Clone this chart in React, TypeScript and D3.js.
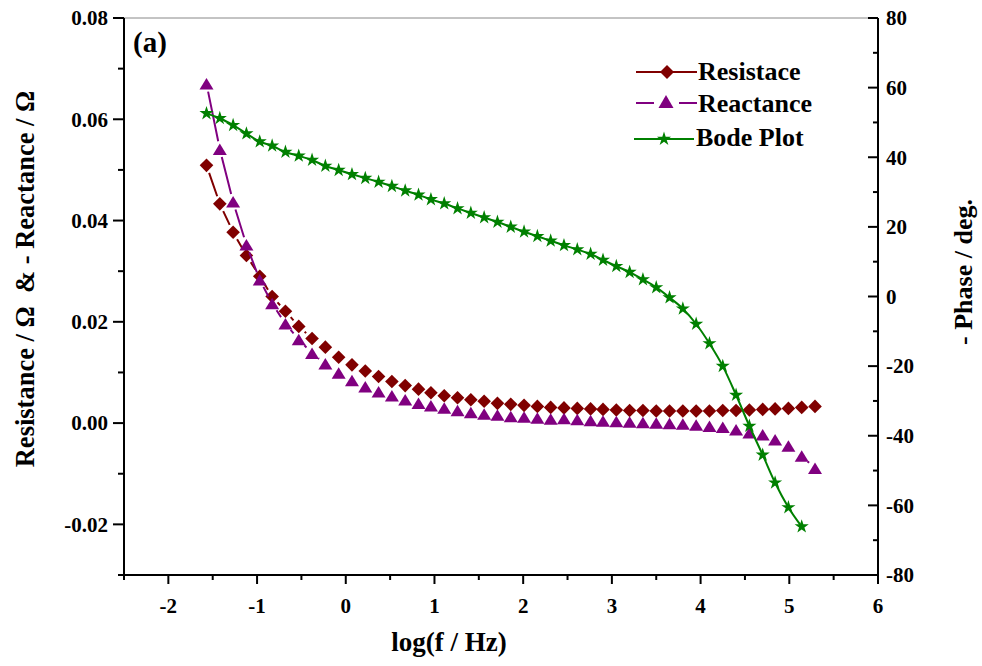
import React from "react";
import * as d3 from "d3";

// log(f / Hz) for each measured point
const logF = [
  -1.57, -1.42, -1.27, -1.12, -0.97, -0.83, -0.68, -0.53, -0.38, -0.23,
  -0.08, 0.07, 0.22, 0.37, 0.52, 0.67, 0.82, 0.96, 1.11, 1.26,
  1.41, 1.56, 1.71, 1.86, 2.01, 2.16, 2.31, 2.46, 2.61, 2.76,
  2.9, 3.05, 3.2, 3.35, 3.5, 3.65, 3.8, 3.95, 4.1, 4.25,
  4.4, 4.55, 4.7, 4.84, 4.99, 5.14, 5.29,
];

// Resistance / Ohm
const resistance = [
  0.0509, 0.0433, 0.0377, 0.0331, 0.029, 0.025, 0.0221, 0.0191, 0.0167, 0.015,
  0.013, 0.0115, 0.0103, 0.0092, 0.0082, 0.0074, 0.0067, 0.006, 0.0054, 0.005,
  0.0046, 0.0043, 0.0039, 0.0037, 0.0035, 0.0033, 0.0031, 0.003, 0.0029, 0.0028,
  0.0027, 0.0026, 0.0025, 0.0025, 0.0024, 0.0024, 0.0024, 0.0024, 0.0024, 0.0025,
  0.0025, 0.0026, 0.0027, 0.0028, 0.0029, 0.0031, 0.0033,
];

// - Reactance / Ohm
const reactance = [
  0.067, 0.0541, 0.0437, 0.0352, 0.0283, 0.0236, 0.0196, 0.0165, 0.0138, 0.0117,
  0.0099, 0.0084, 0.0072, 0.0062, 0.0054, 0.0046, 0.0039, 0.0034, 0.003, 0.0025,
  0.0021, 0.0018, 0.0016, 0.0013, 0.0012, 0.001, 0.0008, 0.0009, 0.0007, 0.0005,
  0.0004, 0.0003, 0.0002, 0.0001, 0.0, -0.0001, -0.0002, -0.0004, -0.0006, -0.0008,
  -0.0013, -0.0019, -0.0023, -0.0033, -0.0045, -0.0065, -0.0089,
];

// - Phase / deg (Bode plot), one point fewer than the impedance series
const phase = [
  52.6, 51.2, 49.2, 46.8, 44.5, 43.3, 41.5, 40.4, 39.2, 37.5,
  36.3, 35.1, 34.0, 32.9, 31.7, 30.4, 29.2, 27.9, 26.7, 25.3,
  24.0, 22.7, 21.4, 20.0, 18.6, 17.3, 16.0, 14.7, 13.5, 12.2,
  10.5, 8.7, 7.0, 4.9, 2.6, -0.3, -3.5, -7.9, -13.5, -20.0,
  -28.3, -37.2, -45.5, -53.5, -60.6, -66.1,
];

const seriesNames = ["Resistace", "Reactance", "Bode Plot"];
const leftTickValues = [-0.02, 0.0, 0.02, 0.04, 0.06, 0.08];
const leftMinorValues = [-0.03, -0.01, 0.01, 0.03, 0.05, 0.07];
const rightTickValues = [-80, -60, -40, -20, 0, 20, 40, 60, 80];
const rightMinorValues = [-70, -50, -30, -10, 10, 30, 50, 70];
const xTickValues = [-2, -1, 0, 1, 2, 3, 4, 5, 6];
const xMinorValues = [-2.5, -1.5, -0.5, 0.5, 1.5, 2.5, 3.5, 4.5, 5.5];

const W = 982;
const H = 666;
const PL = 124;
const PR = 878;
const PT = 18;
const PB = 575;

const C_RES = "#800000";
const C_REA = "#800080";
const C_BODE = "#008000";
const FONT = "'Liberation Serif', 'Times New Roman', serif";

const diamondPath = (s: number) => `M0,${-s}L${s},0L0,${s}L${-s},0Z`;
const trianglePath = (w: number, h: number) =>
  `M0,${-h / 2}L${w / 2},${h / 2}L${-w / 2},${h / 2}Z`;
const starPath = d3.symbol(d3.symbolStar, 62)() as string;

type P = { x: number; y: number };
function gapped(pts: P[], gap: number): string {
  let d = "";
  for (let i = 0; i < pts.length - 1; i++) {
    const p = pts[i];
    const q = pts[i + 1];
    const dx = q.x - p.x;
    const dy = q.y - p.y;
    const L = Math.hypot(dx, dy);
    if (L <= 2 * gap + 1) continue;
    const ux = dx / L;
    const uy = dy / L;
    d += `M${p.x + ux * gap},${p.y + uy * gap}L${q.x - ux * gap},${q.y - uy * gap}`;
  }
  return d;
}

export default function App() {
  const x = d3.scaleLinear().domain([-2.5, 6]).range([PL, PR]);
  const yL = d3.scaleLinear().domain([-0.03, 0.08]).range([PB, PT]);
  const yR = d3.scaleLinear().domain([-80, 80]).range([PB, PT]);

  const resPts = logF.map((f, i) => ({ x: x(f), y: yL(resistance[i]) }));
  const reaPts = logF.map((f, i) => ({ x: x(f), y: yL(reactance[i]) }));
  const bodePts = phase.map((v, i) => ({ x: x(logF[i]), y: yR(v) }));

  const bodeLine = d3
    .line<P>()
    .x((d) => d.x)
    .y((d) => d.y)
    .curve(d3.curveMonotoneX)(bodePts) as string;

  const tickFont = { fontFamily: FONT, fontWeight: 700, fontSize: 21 } as const;

  return (
    <svg
      width={W}
      height={H}
      viewBox={`0 0 ${W} ${H}`}
      style={{ position: "absolute", left: 0, top: 0, background: "#fff" }}
    >
      <rect x={0} y={0} width={W} height={H} fill="#fff" />

      {/* top frame line */}
      <line x1={PL} x2={PR} y1={PT} y2={PT} stroke="#888" strokeWidth={1} />

      {/* series: resistance */}
      <path d={gapped(resPts, 8)} fill="none" stroke={C_RES} strokeWidth={2} />
      {resPts.map((p, i) => (
        <path key={"r" + i} d={diamondPath(6.8)} transform={`translate(${p.x},${p.y})`} fill={C_RES} />
      ))}

      {/* series: reactance */}
      <path d={gapped(reaPts, 8)} fill="none" stroke={C_REA} strokeWidth={2} />
      {reaPts.map((p, i) => (
        <path key={"x" + i} d={trianglePath(14, 11.5)} transform={`translate(${p.x},${p.y})`} fill={C_REA} />
      ))}

      {/* series: bode */}
      <path d={bodeLine} fill="none" stroke={C_BODE} strokeWidth={2} />
      {bodePts.map((p, i) => (
        <path key={"b" + i} d={starPath} transform={`translate(${p.x},${p.y})`} fill={C_BODE} />
      ))}

      {/* left axis */}
      <line x1={PL} x2={PL} y1={PT} y2={PB + 1} stroke="#000" strokeWidth={2} />
      {leftTickValues.map((v) => (
        <g key={"lt" + v}>
          <line x1={PL - 11} x2={PL} y1={yL(v)} y2={yL(v)} stroke="#000" strokeWidth={2} />
          <text x={PL - 16} y={yL(v)} dy="0.35em" textAnchor="end" {...tickFont}>
            {v.toFixed(2)}
          </text>
        </g>
      ))}
      {leftMinorValues.map((v) => (
        <line key={"lm" + v} x1={PL - 6} x2={PL} y1={yL(v)} y2={yL(v)} stroke="#000" strokeWidth={2} />
      ))}

      {/* right axis */}
      <line x1={PR} x2={PR} y1={PT} y2={PB + 1} stroke="#000" strokeWidth={2} />
      {rightTickValues.map((v) => (
        <g key={"rt" + v}>
          <line x1={PR - 10} x2={PR} y1={yR(v)} y2={yR(v)} stroke="#000" strokeWidth={2} />
          <text x={PR + 8} y={yR(v)} dy="0.35em" textAnchor="start" {...tickFont}>
            {String(v)}
          </text>
        </g>
      ))}
      {rightMinorValues.map((v) => (
        <line key={"rm" + v} x1={PR - 5} x2={PR} y1={yR(v)} y2={yR(v)} stroke="#000" strokeWidth={2} />
      ))}

      {/* bottom axis */}
      <line x1={PL - 1} x2={PR + 1} y1={PB} y2={PB} stroke="#000" strokeWidth={2} />
      {xTickValues.map((v) => (
        <g key={"xt" + v}>
          <line x1={x(v)} x2={x(v)} y1={PB} y2={PB + 9} stroke="#000" strokeWidth={2} />
          <text x={x(v)} y={613} textAnchor="middle" {...tickFont}>
            {String(v)}
          </text>
        </g>
      ))}
      {xMinorValues.map((v) => (
        <line key={"xm" + v} x1={x(v)} x2={x(v)} y1={PB} y2={PB + 5} stroke="#000" strokeWidth={2} />
      ))}

      {/* axis titles */}
      <text
        transform="translate(34,279) rotate(-90)"
        textAnchor="middle"
        fontFamily={FONT}
        fontWeight={700}
        fontSize={26.5}
        style={{ whiteSpace: "pre" }}
      >
        {"Resistance / Ω  & - Reactance / Ω"}
      </text>
      <text
        transform="translate(972,272) rotate(-90)"
        textAnchor="middle"
        fontFamily={FONT}
        fontWeight={700}
        fontSize={26}
      >
        - Phase / deg.
      </text>
      <text x={449} y={651} textAnchor="middle" fontFamily={FONT} fontWeight={700} fontSize={27}>
        log(f / Hz)
      </text>

      {/* panel label */}
      <text x={133} y={52} fontFamily={FONT} fontWeight={700} fontSize={29}>
        (a)
      </text>

      {/* legend */}
      <g>
        <line x1={636} x2={697} y1={72} y2={72} stroke={C_RES} strokeWidth={2} />
        <path d={diamondPath(7)} transform="translate(667,72)" fill={C_RES} />
        <text x={698} y={80} fontFamily={FONT} fontWeight={700} fontSize={26}>
          {seriesNames[0]}
        </text>

        <line x1={636} x2={654} y1={103} y2={103} stroke={C_REA} strokeWidth={2} />
        <line x1={679} x2={697} y1={103} y2={103} stroke={C_REA} strokeWidth={2} />
        <path d={trianglePath(15, 13)} transform="translate(666,101.5)" fill={C_REA} />
        <text x={698} y={112} fontFamily={FONT} fontWeight={700} fontSize={26}>
          {seriesNames[1]}
        </text>

        <line x1={634} x2={694} y1={139} y2={139} stroke={C_BODE} strokeWidth={2} />
        <path d={starPath} transform="translate(664,139)" fill={C_BODE} />
        <text x={696} y={146} fontFamily={FONT} fontWeight={700} fontSize={26}>
          {seriesNames[2]}
        </text>
      </g>
    </svg>
  );
}
